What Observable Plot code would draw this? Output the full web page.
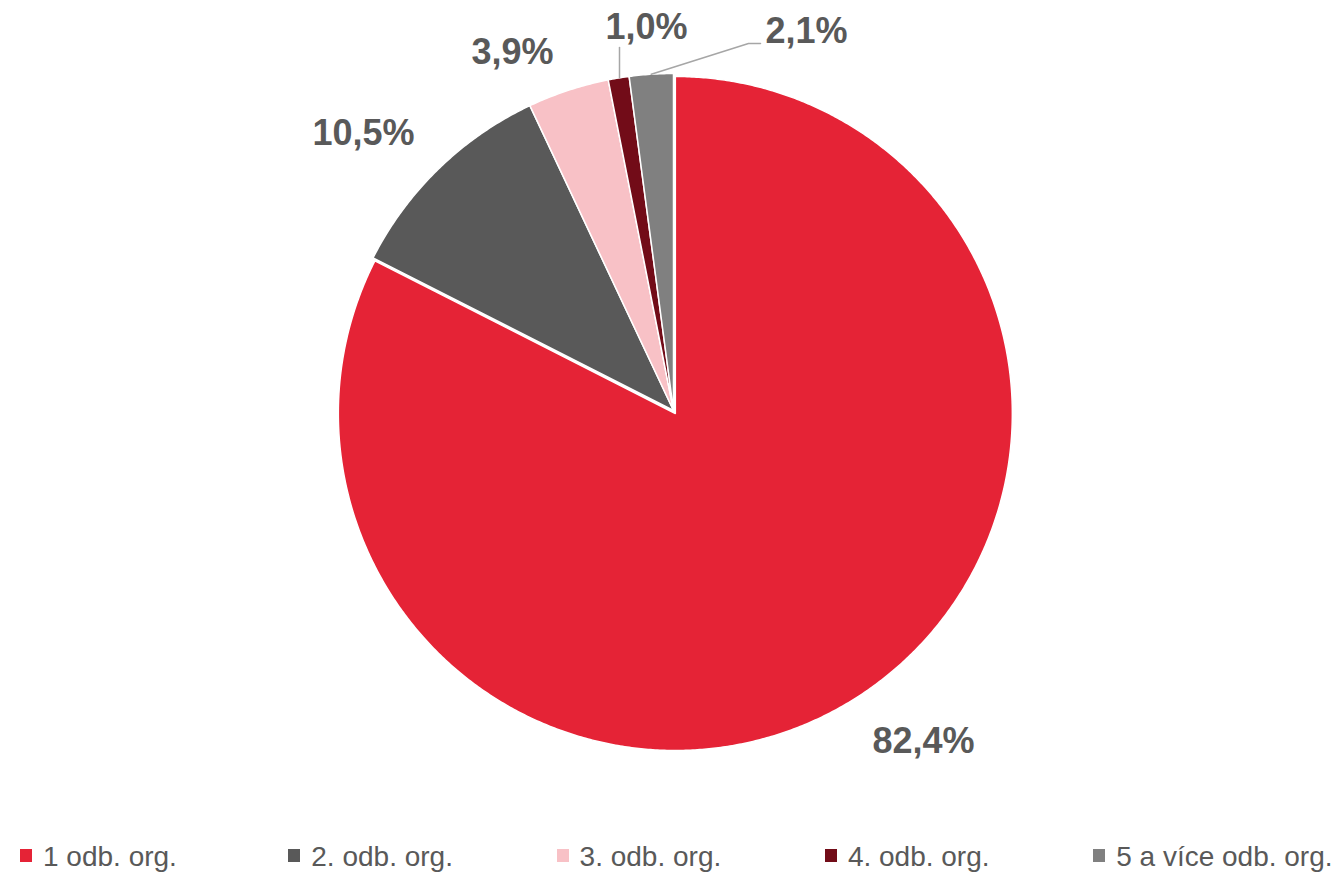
<!DOCTYPE html>
<html>
<head>
<meta charset="utf-8">
<script src="https://cdn.jsdelivr.net/npm/d3@7"></script>
<script src="https://cdn.jsdelivr.net/npm/@observablehq/plot@0.6"></script>
<style>
  body { margin: 0; background: #fff; font-family: "Liberation Sans", Arial, sans-serif; }
  #chart { width: 1344px; }
  #legend { position: relative; width: 1344px; height: 43px; }
  .item { position: absolute; top: 0; height: 43px; }
  .sw { position: absolute; top: 19px; width: 12px; height: 13px; }
  .lab { position: absolute; top: 13px; left: 23px; font-size: 28px; line-height: 28px; color: #595959; white-space: nowrap; }
</style>
</head>
<body>
<div id="chart"></div>
<div id="legend"></div>
<script>
// ---- data ----
const categories = ["1 odb. org.", "2. odb. org.", "3. odb. org.", "4. odb. org.", "5 a více odb. org."];
const shares = [82.4, 10.5, 3.9, 1.0, 2.1];
const labels = ["82,4%", "10,5%", "3,9%", "1,0%", "2,1%"];
const colors = ["#E52336", "#595959", "#F8C1C6", "#720C18", "#808080"];

// ---- layout ----
const W = 1344, H = 830;
const cx = 673, cy = 410, R = 337;
const explode = [3.5, 0, 0, 0, 0];
// label centers (Excel "best fit" placement)
const labelAt = [[923, 741], [363, 133], [512, 52], [646, 27], [806, 31]];
// leader elbows for small slices (index -> list of points after slice edge)
const leaders = {3: [[619, 47]], 4: [[748, 43], [760, 43]]};

const pie = d3.pie().sort(null).value(d => d)(shares);

const deg = Math.PI / 180;
function pt(a, r, ox = 0, oy = 0) { return [ox + cx + r * Math.sin(a), oy + cy - r * Math.cos(a)]; }

const marks = [];
pie.forEach((arc, i) => {
  const mid = (arc.startAngle + arc.endAngle) / 2;
  const ox = explode[i] * Math.sin(mid), oy = -explode[i] * Math.cos(mid);
  const pts = [[cx + ox, cy + oy]];
  const n = Math.max(4, Math.ceil((arc.endAngle - arc.startAngle) / (0.4 * deg)));
  for (let k = 0; k <= n; k++) {
    const a = arc.startAngle + (arc.endAngle - arc.startAngle) * k / n;
    pts.push(pt(a, R, ox, oy));
  }
  marks.push(Plot.line(pts, {x: d => d[0], y: d => d[1], curve: "linear-closed",
    fill: colors[i], stroke: "#fff", strokeWidth: 1.5, strokeLinejoin: "round"}));
});

// leader lines
Object.entries(leaders).forEach(([k, elbows]) => {
  const arc = pie[+k];
  const mid = (arc.startAngle + arc.endAngle) / 2;
  let start = pt(mid, R);
  if (+k === 3) start = [elbows[0][0], cy - Math.sqrt(R * R - (elbows[0][0] - cx) ** 2)];
  const pts = [start, ...elbows];
  marks.push(Plot.line(pts, {x: d => d[0], y: d => d[1], stroke: "#A6A6A6", strokeWidth: 1.5}));
});

const labelData = labels.map((t, i) => ({t, x: labelAt[i][0], y: labelAt[i][1]}));
marks.push(Plot.text(labelData, {x: "x", y: "y", text: "t", fontSize: 36, fontWeight: "bold",
  fill: "#595959", textAnchor: "middle", lineAnchor: "middle", fontFamily: "Liberation Sans, Arial, sans-serif"}));

const svg = Plot.plot({
  width: W, height: H, margin: 0,
  x: {domain: [0, W], range: [0, W], axis: null},
  y: {domain: [0, H], range: [0, H], axis: null},
  style: {fontFamily: "Liberation Sans, Arial, sans-serif", background: "#fff"},
  marks
});
document.getElementById("chart").appendChild(svg);

// legend
const lg = document.getElementById("legend");
categories.forEach((c, i) => {
  const it = document.createElement("div");
  it.className = "item";
  it.style.left = (20 + i * 268.3) + "px";
  it.innerHTML = `<div class="sw" style="background:${colors[i]}"></div><div class="lab">${c}</div>`;
  lg.appendChild(it);
});
</script>
</body>
</html>
